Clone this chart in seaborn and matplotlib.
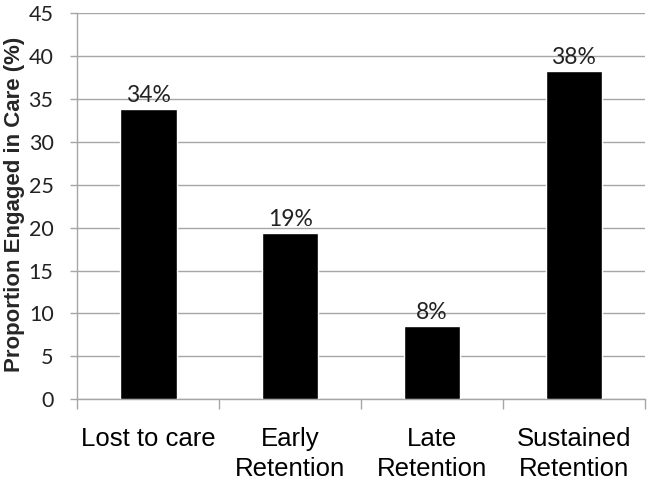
import numpy as np
import pandas as pd
import seaborn as sns
import matplotlib.pyplot as plt
from matplotlib.ticker import FixedLocator

# Values
categories = ["Lost to care", "Early\nRetention", "Late\nRetention", "Sustained\nRetention"]
proportions = [33.8, 19.4, 8.5, 38.3]
bar_labels = ["34%", "19%", "8%", "38%"]
y_ticks = [0, 5, 10, 15, 20, 25, 30, 35, 40, 45]

df = pd.DataFrame({"group": categories, "proportion": proportions})

sns.set_theme(style="white")
plt.rcParams["font.family"] = ["Liberation Sans", "DejaVu Sans"]

fig = plt.figure(figsize=(6.54, 4.88), dpi=100)
ax = fig.add_axes([0.118, 0.182, 0.868, 0.791])

sns.barplot(data=df, x="group", y="proportion", color="black", width=0.4,
            saturation=1, ax=ax, zorder=3)

ax.set_ylim(0, 45)
ax.set_xlim(-0.5, len(categories) - 0.5)
ax.set_yticks(y_ticks)
ax.set_yticklabels([str(t) for t in y_ticks], fontfamily="Lato", fontsize=15.5, color="#222222")
ax.yaxis.grid(True, color="#A6A6A6", linewidth=1, zorder=0)
ax.set_axisbelow(True)

# category labels, tick marks between categories (Excel style)
ax.set_xticks(range(len(categories)))
ax.set_xticklabels(categories, fontsize=18.5, color="black", linespacing=1.3)
ax.tick_params(axis="x", which="major", length=0, pad=20)
ax.xaxis.set_minor_locator(FixedLocator(np.arange(-0.5, len(categories), 1.0)))
ax.tick_params(axis="x", which="minor", length=7, width=1, color="#A6A6A6", direction="out", bottom=True)
ax.tick_params(axis="y", length=5, width=1, color="#A6A6A6", left=True, pad=12)

ax.set_xlabel("")
ax.set_ylabel("Proportion Engaged in Care (%)", fontsize=16, fontweight="bold")
ax.yaxis.set_label_coords(-0.092, 0.505)

for side in ["top", "right"]:
    ax.spines[side].set_visible(False)
for side in ["left", "bottom"]:
    ax.spines[side].set_color("#A6A6A6")
    ax.spines[side].set_linewidth(1)

ax.bar_label(ax.containers[0], labels=bar_labels, padding=2,
             fontfamily="Lato", fontsize=16.5, color="#222222")

fig.savefig("out.png", dpi=100)
